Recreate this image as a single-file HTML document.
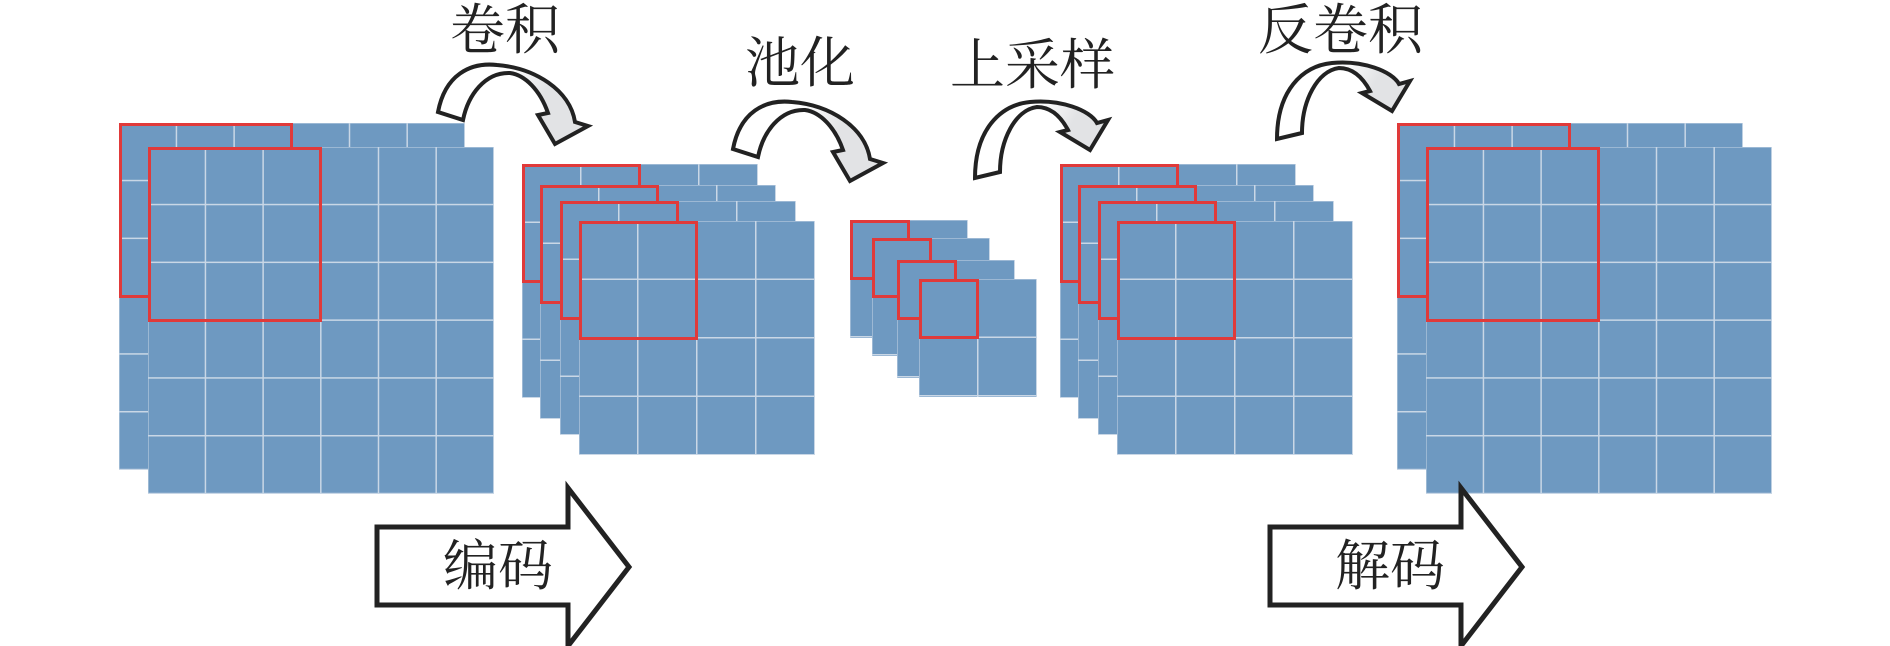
<!DOCTYPE html>
<html><head><meta charset="utf-8"><style>
body{margin:0;width:1890px;height:646px;background:#fff;position:relative;overflow:hidden}
.g{position:absolute;background-color:#6e99c1;background-image:linear-gradient(to right,#c9d7e6 1.5px,transparent 1.5px),linear-gradient(to bottom,#c9d7e6 1.5px,transparent 1.5px);background-position:-1px -1px}
.b{background-size:57.7px 57.8px}
.m{background-size:59px 58.5px}
.r{position:absolute;border:3px solid #e03a3a;box-sizing:border-box}
.t{position:absolute;font-family:"Liberation Serif","Noto Serif CJK SC",serif;font-size:55px;line-height:1;color:#222;white-space:nowrap}
svg{position:absolute;left:0;top:0}
</style></head><body>
<div class="g b" style="left:119px;top:123px;width:346px;height:347px"></div>
<div class="r" style="left:119px;top:123px;width:174px;height:175px"></div>
<div class="g b" style="left:148px;top:147px;width:346px;height:347px"></div>
<div class="r" style="left:148px;top:147px;width:174px;height:175px"></div>
<div class="g m" style="left:522px;top:164px;width:236px;height:234px"></div>
<div class="r" style="left:522px;top:164px;width:119px;height:119px"></div>
<div class="g m" style="left:540px;top:185px;width:236px;height:234px"></div>
<div class="r" style="left:540px;top:185px;width:119px;height:119px"></div>
<div class="g m" style="left:560px;top:201px;width:236px;height:234px"></div>
<div class="r" style="left:560px;top:201px;width:119px;height:119px"></div>
<div class="g m" style="left:579px;top:221px;width:236px;height:234px"></div>
<div class="r" style="left:579px;top:221px;width:119px;height:119px"></div>
<div class="g m" style="left:850px;top:220px;width:118px;height:118px"></div>
<div class="r" style="left:850px;top:220px;width:60px;height:60px"></div>
<div class="g m" style="left:872px;top:238px;width:118px;height:118px"></div>
<div class="r" style="left:872px;top:238px;width:60px;height:60px"></div>
<div class="g m" style="left:897px;top:260px;width:118px;height:118px"></div>
<div class="r" style="left:897px;top:260px;width:60px;height:60px"></div>
<div class="g m" style="left:919px;top:279px;width:118px;height:118px"></div>
<div class="r" style="left:919px;top:279px;width:60px;height:60px"></div>
<div class="g m" style="left:1060px;top:164px;width:236px;height:234px"></div>
<div class="r" style="left:1060px;top:164px;width:119px;height:119px"></div>
<div class="g m" style="left:1078px;top:185px;width:236px;height:234px"></div>
<div class="r" style="left:1078px;top:185px;width:119px;height:119px"></div>
<div class="g m" style="left:1098px;top:201px;width:236px;height:234px"></div>
<div class="r" style="left:1098px;top:201px;width:119px;height:119px"></div>
<div class="g m" style="left:1117px;top:221px;width:236px;height:234px"></div>
<div class="r" style="left:1117px;top:221px;width:119px;height:119px"></div>
<div class="g b" style="left:1397px;top:123px;width:346px;height:347px"></div>
<div class="r" style="left:1397px;top:123px;width:174px;height:175px"></div>
<div class="g b" style="left:1426px;top:147px;width:346px;height:347px"></div>
<div class="r" style="left:1426px;top:147px;width:174px;height:175px"></div>

<svg width="1890" height="646">
<defs>
<linearGradient id="gr" x1="0" y1="0" x2="1" y2="0.3"><stop offset="0.45" stop-color="#fff"/><stop offset="0.75" stop-color="#e2e3e5"/></linearGradient>
<path id="ca" d="M438,112 C445,75 470,62 497,65 C535,68 570,90 575,122 L588,126 L555,144 L538,115 L548,113 C540,90 525,75 510,73 C485,72 468,95 463,120 Z" fill="url(#gr)" stroke="#222" stroke-width="4"/>
<path id="cb" d="M975,178 C975,130 1000,105 1030,102 C1060,99 1090,110 1097,123 L1108,120 L1090,150 L1060,132 L1068,130 C1060,115 1050,107 1037,107 C1015,110 1000,140 1000,172 Z" fill="url(#gr)" stroke="#222" stroke-width="4"/>
</defs>
<use href="#ca"/>
<use href="#ca" transform="translate(295,37)"/>
<use href="#cb"/>
<use href="#cb" transform="translate(302,-39)"/>
<polygon points="377,527 568,527 568,488 629,567 568,646 568,605 377,605" fill="#fff" stroke="#222" stroke-width="5"/>
<polygon points="1270,527 1461,527 1461,488 1522,567 1461,646 1461,605 1270,605" fill="#fff" stroke="#222" stroke-width="5"/>
</svg>
<div class="t" style="left:450px;top:3px">卷积</div>
<div class="t" style="left:745px;top:36px">池化</div>
<div class="t" style="left:950px;top:38px">上采样</div>
<div class="t" style="left:1258px;top:3px">反卷积</div>
<div class="t" style="left:443px;top:539px">编码</div>
<div class="t" style="left:1335px;top:539px">解码</div>
</body></html>
